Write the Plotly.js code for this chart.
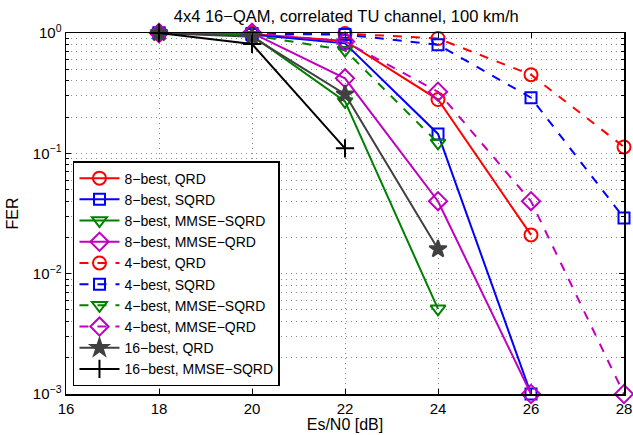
<!DOCTYPE html>
<html>
<head>
<meta charset="utf-8">
<script src="https://cdn.plot.ly/plotly-3.0.1.min.js"></script>
<style>html,body{margin:0;padding:0;background:#fff;}#chart{width:633px;height:435px;}</style>
</head>
<body>
<div id="chart"></div>
<script>
// ---- data ----
const snrAll = [18, 20, 22, 24, 26, 28];
const best8_QRD       = [1, 0.98, 0.86, 0.28, 0.021];
const best8_SQRD      = [1, 0.97, 0.82, 0.145, 0.001];
const best8_MMSE_SQRD = [1, 0.95, 0.27, 0.0051];
const best8_MMSE_QRD  = [1, 1.0, 0.42, 0.04, 0.001];
const best4_QRD       = [1, 1.0, 0.99, 0.9, 0.45, 0.113];
const best4_SQRD      = [1, 0.99, 0.97, 0.8, 0.29, 0.029];
const best4_MMSE_SQRD = [1, 0.96, 0.72, 0.122];
const best4_MMSE_QRD  = [1, 1.0, 0.85, 0.325, 0.04, 0.001];
const best16_QRD      = [1, 0.93, 0.31, 0.016];
const best16_MMSE_SQRD= [1, 0.81, 0.11];

const seriesNames = [
  "8\u2212best, QRD", "8\u2212best, SQRD", "8\u2212best, MMSE\u2212SQRD", "8\u2212best, MMSE\u2212QRD",
  "4\u2212best, QRD", "4\u2212best, SQRD", "4\u2212best, MMSE\u2212SQRD", "4\u2212best, MMSE\u2212QRD",
  "16\u2212best, QRD", "16\u2212best, MMSE\u2212SQRD"
];
const yTickVals = [0.001, 0.01, 0.1, 1];
const yTickText = ["10<sup>\u22123</sup>", "10<sup>\u22122</sup>", "10<sup>\u22121</sup>", "10<sup>0</sup>"];
const xTickVals = [16, 18, 20, 22, 24, 26, 28];

// ---- styles ----
const RED = "#ff0000", BLUE = "#0000ff", GREEN = "#008000", MAG = "#bf00bf", GRAY = "#404040", BLACK = "#000000";
function tr(y, name, color, dash, symbol, size) {
  return {
    x: snrAll.slice(0, y.length), y: y, name: name, type: "scatter", mode: "lines+markers",
    cliponaxis: false,
    line: {color: color, width: 2, dash: dash},
    marker: {symbol: symbol, size: size, color: color, line: {color: color, width: 2}}
  };
}
const data = [
  tr(best8_QRD, seriesNames[0], RED, "solid", "circle-open", 13),
  tr(best8_SQRD, seriesNames[1], BLUE, "solid", "square-open", 11),
  tr(best8_MMSE_SQRD, seriesNames[2], GREEN, "solid", "triangle-down-open", 13),
  tr(best8_MMSE_QRD, seriesNames[3], MAG, "solid", "diamond-open", 14),
  tr(best4_QRD, seriesNames[4], RED, "dash", "circle-open", 13),
  tr(best4_SQRD, seriesNames[5], BLUE, "dash", "square-open", 11),
  tr(best4_MMSE_SQRD, seriesNames[6], GREEN, "dash", "triangle-down-open", 13),
  tr(best4_MMSE_QRD, seriesNames[7], MAG, "dash", "diamond-open", 14),
  tr(best16_QRD, seriesNames[8], GRAY, "solid", "star", 13),
  tr(best16_MMSE_SQRD, seriesNames[9], BLACK, "solid", "cross-thin-open", 13)
];

const FONT = "Liberation Sans, Arial, Helvetica, sans-serif";
const GRID = "#8a8a8a", GDASH = "1px,4px";
const layout = {
  width: 633, height: 435,
  margin: {l: 66, r: 9, t: 33, b: 41, pad: 0},
  paper_bgcolor: "#fff", plot_bgcolor: "#fff",
  font: {family: FONT, size: 14, color: "#000"},
  title: {text: "4x4 16\u2212QAM, correlated TU channel, 100 km/h", font: {family: FONT, size: 16.5},
          x: 0.547, xanchor: "center", y: 0.963, yanchor: "middle"},
  showlegend: true,
  legend: {x: 0.0125, y: 0.022, xanchor: "left", yanchor: "bottom",
           bgcolor: "#fff", bordercolor: "#000", borderwidth: 1.5,
           font: {family: FONT, size: 14}, tracegroupgap: 0, itemwidth: 40},
  xaxis: {
    range: [16, 28], tickvals: xTickVals, ticks: "inside", ticklen: 5, tickcolor: "#000",
    showline: true, linecolor: "#000", linewidth: 1.5, mirror: "ticks",
    showgrid: true, gridcolor: GRID, griddash: GDASH, gridwidth: 1, zeroline: false,
    tickfont: {family: FONT, size: 15},
    title: {text: "Es/N0 [dB]", font: {family: FONT, size: 16}, standoff: 2}
  },
  yaxis: {
    type: "log", range: [-3, 0], tickvals: yTickVals, ticktext: yTickText,
    ticks: "inside", ticklen: 5, tickcolor: "#000",
    showline: true, linecolor: "#000", linewidth: 1.5, mirror: "ticks",
    showgrid: true, gridcolor: GRID, griddash: GDASH, gridwidth: 1, zeroline: false,
    minor: {showgrid: true, gridcolor: GRID, griddash: GDASH, gridwidth: 1,
            ticks: "inside", ticklen: 3, tickcolor: "#000", dtick: "D1"},
    tickfont: {family: FONT, size: 15},
    title: {text: "FER", font: {family: FONT, size: 16}, standoff: 10}
  }
};
Plotly.newPlot("chart", data, layout, {staticPlot: true, displayModeBar: false});
</script>
</body>
</html>
